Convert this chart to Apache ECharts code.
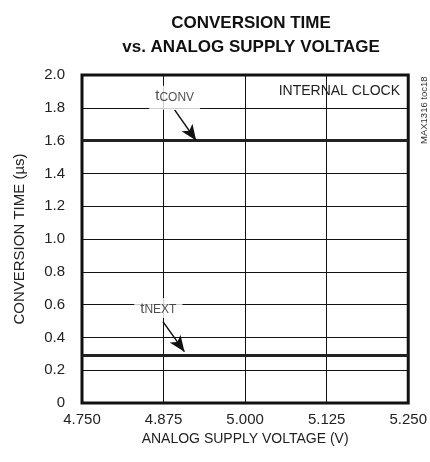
<!DOCTYPE html>
<html><head><meta charset="utf-8">
<script src="https://cdn.jsdelivr.net/npm/echarts@6/dist/echarts.min.js"></script>
<style>html,body{margin:0;padding:0;background:#fff}#c{width:430px;height:462px}</style>
</head><body><div id="c"></div>
<script>
var xTicks = [4.750, 4.875, 5.000, 5.125, 5.250];
var yTicks = [0, 0.2, 0.4, 0.6, 0.8, 1.0, 1.2, 1.4, 1.6, 1.8, 2.0];
var voltage = [4.75, 5.25];
var tConv = [1.6, 1.6];
var tNext = [0.29, 0.29];
var labelsAt = [
  {name: 'tCONV', pos: [4.892, 1.862], arrowFrom: [4.892, 1.787], arrowTo: [4.925, 1.6]},
  {name: 'tNEXT', pos: [4.867, 0.58], arrowFrom: [4.874, 0.496], arrowTo: [4.907, 0.313]}
];
var FONT = '"Liberation Sans Narrow","Arial Narrow","Liberation Sans",sans-serif';
var chart = echarts.init(document.getElementById('c'));
function sub(name){ return '{t|t}{s|' + name.slice(1) + '}'; }
var option = {
  animation: false,
  title: {
    text: 'CONVERSION TIME\nvs. ANALOG SUPPLY VOLTAGE',
    left: 246, top: 6, textAlign: 'center',
    textStyle: {fontFamily: FONT, fontWeight: 'bold', fontSize: 17, lineHeight: 24, color: '#111'}
  },
  grid: {left: 82, right: 20, top: 75, bottom: 59, show: true, borderColor: '#111', borderWidth: 3, backgroundColor: 'transparent'},
  xAxis: {
    type: 'value', min: 4.75, max: 5.25, interval: 0.125,
    name: 'ANALOG SUPPLY VOLTAGE (V)', nameLocation: 'middle', nameGap: 29,
    nameTextStyle: {fontFamily: FONT, fontSize: 14, color: '#222'},
    axisLine: {show: false}, axisTick: {show: false},
    axisLabel: {fontFamily: FONT, fontSize: 15, color: '#222', margin: 9,
      formatter: function(v){ return v.toFixed(3); }},
    splitLine: {show: true, lineStyle: {color: '#111', width: 1}}
  },
  yAxis: {
    type: 'value', min: 0, max: 2, interval: 0.2,
    name: 'CONVERSION TIME (\u00b5s)', nameLocation: 'middle', nameGap: 55,
    nameTextStyle: {fontFamily: FONT, fontSize: 15, color: '#222'},
    axisLine: {show: false}, axisTick: {show: false},
    axisLabel: {fontFamily: FONT, fontSize: 15, color: '#222', margin: 17,
      formatter: function(v){ return v === 0 ? '0' : v.toFixed(1); }},
    splitLine: {show: true, lineStyle: {color: '#111', width: 1}}
  },
  series: [
    {type: 'line', data: voltage.map(function(x,i){return [x, tConv[i]];}), symbol: 'none',
     lineStyle: {color: '#222', width: 3}, z: 3},
    {type: 'line', data: voltage.map(function(x,i){return [x, tNext[i]];}), symbol: 'none',
     lineStyle: {color: '#222', width: 3}, z: 3},
    {type: 'scatter', symbolSize: 0, z: 5,
     data: labelsAt.map(function(l, i){
       return {value: l.pos, name: l.name,
         label: {padding: i === 0 ? [2, 6, 6, 6] : [2, 6, 2, 6]}};
     }),
     label: {show: true, position: 'inside', backgroundColor: '#fff',
       formatter: function(p){ return sub(p.name); },
       rich: {
         t: {fontFamily: FONT, fontSize: 15, color: '#222', verticalAlign: 'bottom', lineHeight: 16},
         s: {fontFamily: FONT, fontSize: 12, color: '#222', verticalAlign: 'bottom', lineHeight: 12, padding: [5,0,0,0]}
       }},
     markLine: {
       silent: true, symbol: ['none', 'arrow'], symbolSize: [10, 16],
       lineStyle: {color: '#111', width: 1.5, type: 'solid'},
       label: {show: false},
       data: labelsAt.map(function(l){ return [{coord: l.arrowFrom}, {coord: l.arrowTo}]; })
     }
    }
  ],
  graphic: [
    {type: 'text', right: 30, top: 84, style: {text: 'INTERNAL CLOCK', font: '14px ' + FONT, fill: '#222'}},
    {type: 'text', x: 419, y: 144, rotation: Math.PI/2, style: {text: 'MAX1316 toc18', font: '9.5px ' + FONT, fill: '#333'}}
  ]
};
chart.setOption(option);
</script></body></html>
